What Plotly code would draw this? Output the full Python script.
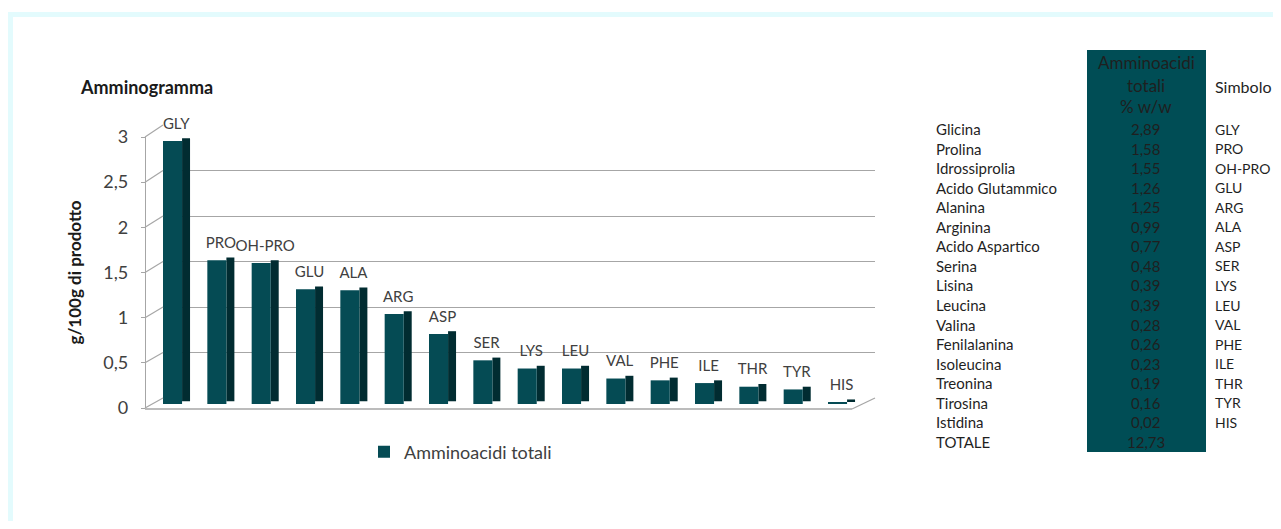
import plotly.graph_objects as go

# ---- data ----
chart_symbols = ["GLY", "PRO", "OH-PRO", "GLU", "ALA", "ARG", "ASP", "SER",
                 "LYS", "LEU", "VAL", "PHE", "ILE", "THR", "TYR", "HIS"]
values = [2.89, 1.58, 1.55, 1.26, 1.25, 0.99, 0.77, 0.48,
          0.39, 0.39, 0.28, 0.26, 0.23, 0.19, 0.16, 0.02]
table_names = ["Glicina", "Prolina", "Idrossiprolia", "Acido Glutammico", "Alanina",
               "Arginina", "Acido Aspartico", "Serina", "Lisina", "Leucina", "Valina",
               "Fenilalanina", "Isoleucina", "Treonina", "Tirosina", "Istidina"]
table_symbols = ["GLY", "PRO", "OH-PRO", "GLU", "ARG", "ALA", "ASP", "SER",
                 "LYS", "LEU", "VAL", "PHE", "ILE", "THR", "TYR", "HIS"]
total_label = "TOTALE"
total_value = 12.73
series_name = "Amminoacidi totali"
y_ticks = [0, 0.5, 1, 1.5, 2, 2.5, 3]

W, H = 1265, 513
OX, OY = 8, 8  # page offset of the plot div
FONT = "Lato, 'Open Sans', sans-serif"
FRONT = "#054b54"
SIDE = "#012c31"
TXT = "#404040"
GRID = "#a6a6a6"


def px(x):
    return (x - OX) / W


def py(y):
    return 1 - (y - OY) / H


# screen geometry (pixels)
GRID0, GRID3 = 398, 125      # back wall gridlines: value 0 and 3
BAR0, BAR3 = 404, 131        # bars: value 0 and 3
FRONT0, FRONT3 = 408, 137    # front value axis: value 0 and 3
XL, XR = 163, 875            # back wall left/right
FX = 145                     # front axis x

idx = list(range(len(values)))
n = len(values)

fig = go.Figure()
# carrier for the back-wall grid axis
fig.add_trace(go.Scatter(x=[0], y=[0], xaxis="x", yaxis="y", mode="markers",
                         marker=dict(opacity=0), showlegend=False, hoverinfo="skip"))
# carrier for the front value axis
fig.add_trace(go.Scatter(x=[0], y=[0], xaxis="x", yaxis="y2", mode="markers",
                         marker=dict(opacity=0), showlegend=False, hoverinfo="skip"))
# side face (3D look)
fig.add_trace(go.Bar(
    x=idx, y=values, base=0.03, width=0.18, offset=0.11, xaxis="x", yaxis="y3",
    marker=dict(color=SIDE, line=dict(width=0)),
    showlegend=False, hoverinfo="skip"))
# front face
fig.add_trace(go.Bar(
    x=idx, y=values, width=0.43, offset=-0.32, name=series_name,
    xaxis="x", yaxis="y3",
    marker=dict(color=FRONT, line=dict(width=0))))
# data labels (symbols) sitting a little above each bar
fig.add_trace(go.Bar(
    x=idx, y=[0.07] * n, base=values, width=0.61, offset=-0.32,
    xaxis="x", yaxis="y3",
    marker=dict(color="rgba(0,0,0,0)", line=dict(width=0)),
    text=chart_symbols, textposition="outside", cliponaxis=False,
    constraintext="none", showlegend=False, hoverinfo="skip",
    textfont=dict(family=FONT, size=15, color=TXT)))

fig.update_layout(
    width=W, height=H,
    margin=dict(l=0, r=0, t=0, b=0, autoexpand=False),
    paper_bgcolor="white", plot_bgcolor="rgba(0,0,0,0)",
    separators=",.",
    font=dict(family=FONT, color=TXT),
    barmode="overlay",
    xaxis=dict(domain=[px(XL), px(XR)], range=[-0.32, 15.74],
               showgrid=False, zeroline=False, showticklabels=False,
               showline=False, fixedrange=True),
    yaxis=dict(domain=[py(GRID0), py(GRID3)], range=[0, 3], tickvals=y_ticks,
               showgrid=True, gridcolor=GRID, gridwidth=1.3,
               zeroline=False, showticklabels=False, fixedrange=True),
    yaxis3=dict(domain=[py(BAR0), py(BAR3)], range=[0, 3], anchor="x",
                showgrid=False, zeroline=False, showticklabels=False,
                fixedrange=True),
    yaxis2=dict(domain=[py(FRONT0), py(FRONT3)], range=[0, 3], tickvals=y_ticks,
                anchor="free", position=px(FX), side="left",
                showgrid=False, zeroline=False, showline=True,
                linecolor=GRID, linewidth=1.3,
                ticks="outside", ticklen=4, tickcolor=GRID,
                ticklabelstandoff=9,
                tickfont=dict(family=FONT, size=18, color=TXT),
                title=dict(text="<b>g/100g di prodotto</b>", standoff=16,
                           font=dict(family=FONT, size=17, color="#1a1a1a")),
                fixedrange=True),
    legend=dict(x=px(364), y=py(452), xanchor="left", yanchor="middle",
                orientation="h", font=dict(family=FONT, size=18, color=TXT),
                bgcolor="rgba(0,0,0,0)"),
    showlegend=True,
)

shapes = [
    dict(type="rect", xref="paper", yref="paper", x0=px(8), x1=px(1300),
         y0=py(12), y1=py(17), fillcolor="#e3fbfd", line=dict(width=0), layer="below"),
    dict(type="rect", xref="paper", yref="paper", x0=px(8), x1=px(13),
         y0=py(12), y1=py(560), fillcolor="#e3fbfd", line=dict(width=0), layer="below"),
    dict(type="rect", xref="paper", yref="paper", x0=px(1087), x1=px(1206),
         y0=py(50), y1=py(452), fillcolor="#004d55", line=dict(width=0), layer="below"),
    # floor front edge and right side
    dict(type="line", xref="paper", yref="paper", x0=px(FX), x1=px(852),
         y0=py(FRONT0 + 1), y1=py(FRONT0 + 1), line=dict(color=GRID, width=1.5)),
    dict(type="line", xref="paper", yref="paper", x0=px(852), x1=px(XR),
         y0=py(FRONT0 + 1), y1=py(GRID0), line=dict(color=GRID, width=1.3)),
]
# perspective connectors from the front axis ticks to the back wall gridlines
for t in y_ticks:
    yf = FRONT0 - (FRONT0 - FRONT3) * t / 3
    yb = GRID0 - (GRID0 - GRID3) * t / 3
    shapes.append(dict(type="line", xref="paper", yref="paper", x0=px(FX), x1=px(XL),
                       y0=py(yf), y1=py(yb), line=dict(color=GRID, width=1.2)))

annotations = [
    dict(text="<b>Amminogramma</b>", x=px(78), y=py(87), xref="paper", yref="paper",
         xanchor="left", yanchor="middle", showarrow=False,
         font=dict(family=FONT, size=18, color="#1a1a1a")),
]

TBL = "#1f1f1f"
for i, line in enumerate(["Amminoacidi", "totali", "% w/w"]):
    annotations.append(dict(text=line, x=px(1146), y=py(63 + i * 22), xref="paper",
                            yref="paper", xanchor="center", yanchor="middle",
                            showarrow=False, font=dict(family=FONT, size=17, color=TBL)))
annotations.append(dict(text="Simbolo", x=px(1213), y=py(86), xref="paper", yref="paper",
                        xanchor="left", yanchor="middle", showarrow=False,
                        font=dict(family=FONT, size=16, color=TBL)))

row0, step = 129, 19.56
rows = list(zip(table_names, values, table_symbols)) + [(total_label, total_value, "")]
for i, (name, val, sym) in enumerate(rows):
    yy = py(row0 + i * step)
    annotations.append(dict(text=name, x=px(934), y=yy, xref="paper", yref="paper",
                            xanchor="left", yanchor="middle", showarrow=False,
                            font=dict(family=FONT, size=15, color=TBL)))
    annotations.append(dict(text=f"{val:.2f}".replace(".", ","), x=px(1146), y=yy,
                            xref="paper", yref="paper", xanchor="center",
                            yanchor="middle", showarrow=False,
                            font=dict(family=FONT, size=15, color=TBL)))
    if sym:
        annotations.append(dict(text=sym, x=px(1213), y=yy, xref="paper", yref="paper",
                                xanchor="left", yanchor="middle", showarrow=False,
                                font=dict(family=FONT, size=14, color=TBL)))

fig.update_layout(shapes=shapes, annotations=annotations)
fig.write_html("out.html")
